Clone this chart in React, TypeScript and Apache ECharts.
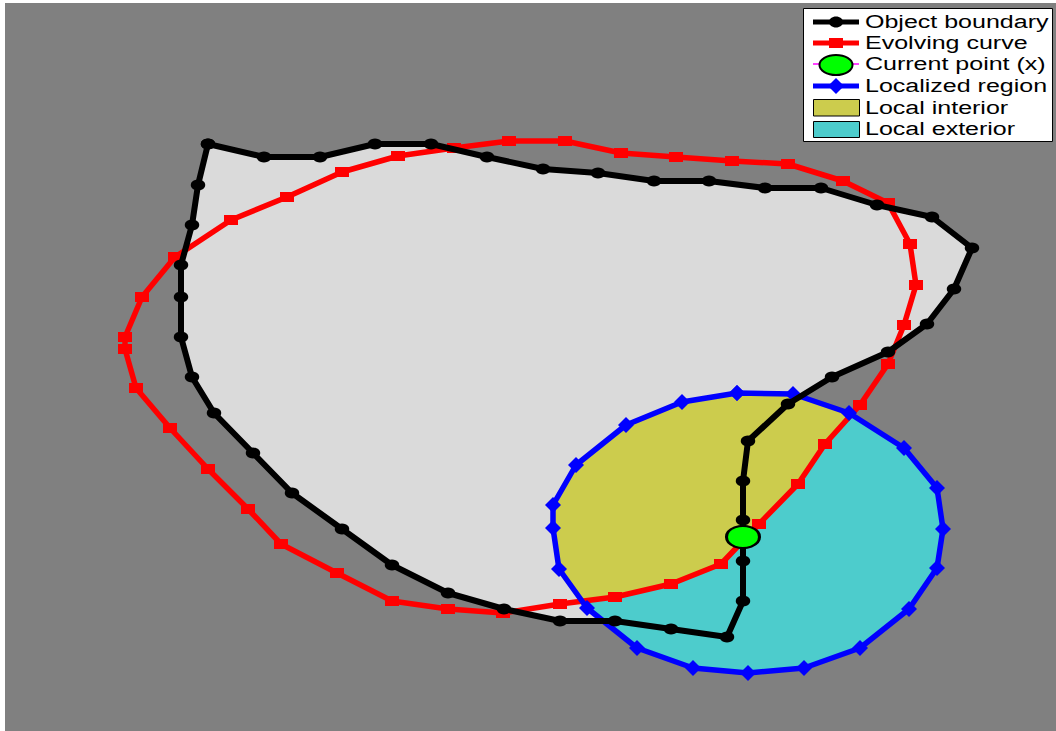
import React, { useEffect, useRef } from "react";
import * as echarts from "echarts";

// Contours in image coordinates (x to the right, y downwards).
const objectBoundary: [number, number][] = [
  [208, 144], [264, 157], [320, 157], [375, 144], [431, 144], [487, 157],
  [543, 169], [598, 173], [654, 181], [709, 181], [765, 188], [821, 188],
  [877, 205], [932, 217], [972, 248], [954, 289], [927, 324], [888, 352],
  [832, 377], [788, 404], [748, 441], [743, 481], [743, 520], [743, 561],
  [743, 601], [727, 637], [671, 629], [615, 621], [560, 621], [504, 609],
  [448, 593], [392, 565], [342, 529], [292, 493], [253, 453], [214, 413],
  [192, 377], [181, 337], [181, 297], [181, 265], [192, 225], [198, 185],
];

const evolvingCurve: [number, number][] = [
  [398, 156], [342, 172], [287, 197], [231, 220], [175, 257], [142, 297],
  [125, 337], [125, 349], [136, 388], [170, 428], [208, 469], [248, 509],
  [281, 544], [337, 573], [392, 601], [448, 609], [503, 613], [560, 604],
  [615, 597], [671, 584], [721, 564], [759, 524], [798, 484], [825, 444],
  [860, 405], [888, 364], [904, 325], [916, 285], [910, 244], [888, 203],
  [843, 181], [788, 164], [732, 161], [676, 157], [621, 153], [565, 141],
  [509, 141], [454, 148],
];

const localizedRegion: [number, number][] = [
  [737, 393], [793, 394], [849, 413], [904, 448], [937, 488], [943, 529],
  [937, 568], [909, 609], [860, 648], [804, 668], [748, 673], [693, 668],
  [637, 648], [587, 608], [559, 569], [553, 528], [553, 505], [576, 465],
  [626, 425], [682, 402],
];

const currentPoint: [number, number] = [743, 537];

// Where the evolving curve enters and leaves the localized region.
const crossingLower: [number, number] = [583, 601];
const crossingUpper: [number, number] = [852, 412];

// Pieces of the two contours that bound the local interior / exterior.
const curveInsideRegion = evolvingCurve.slice(18, 24);
const regionOuterArc = localizedRegion.slice(3, 14);
const regionInnerArc = [
  localizedRegion[1],
  localizedRegion[0],
  ...localizedRegion.slice(14).reverse(),
];

const localInterior: [number, number][] = [
  crossingLower,
  ...curveInsideRegion,
  crossingUpper,
  ...regionInnerArc,
];
const localExterior: [number, number][] = [
  crossingUpper,
  ...regionOuterArc,
  crossingLower,
  ...curveInsideRegion,
];

const legendLabels = [
  "Object boundary",
  "Evolving curve",
  "Current point (x)",
  "Localized region",
  "Local interior",
  "Local exterior",
];

const COLORS = {
  background: "#808080",
  object: "#dadada",
  interior: "#cccc4d",
  exterior: "#4dcccc",
  boundary: "#000000",
  curve: "#ff0000",
  region: "#0000ff",
  point: "#00ff00",
  pointLine: "#ff00ff",
};

const closed = (pts: [number, number][]) => [...pts, pts[0]];

function polygonSeries(pts: [number, number][], fill: string, z: number) {
  return {
    type: "custom",
    coordinateSystem: "cartesian2d",
    silent: true,
    z,
    data: [[pts[0][0], pts[0][1]]],
    renderItem: (_params: any, api: any) => ({
      type: "polygon",
      shape: { points: pts.map((p) => api.coord(p)) },
      style: { fill, stroke: null },
    }),
  };
}

function legendGraphic() {
  const left = 803;
  const top = 8;
  const sampleX0 = 813;
  const sampleX1 = 859;
  const sampleCx = 836;
  const textX = 865;
  const rows = [22, 43, 64, 86, 107.7, 129.3];
  const font = {
    fontSize: 18,
    fontFamily: "'Liberation Sans', Arial, Helvetica, sans-serif",
    fill: "#000",
    verticalAlign: "middle" as const,
    align: "left" as const,
  };
  const children: any[] = [
    {
      type: "rect",
      shape: { x: left + 0.5, y: top + 0.5, width: 249, height: 133 },
      style: { fill: "#ffffff", stroke: "#000", lineWidth: 1 },
    },
  ];
  const lineRow = (y: number, color: string, width: number) => ({
    type: "line",
    shape: { x1: sampleX0, y1: y, x2: sampleX1, y2: y },
    style: { stroke: color, lineWidth: width },
  });
  // Object boundary
  children.push(lineRow(rows[0], COLORS.boundary, 5));
  children.push({
    type: "ellipse",
    shape: { cx: sampleCx, cy: rows[0], rx: 7, ry: 5.5 },
    style: { fill: COLORS.boundary },
  });
  // Evolving curve
  children.push(lineRow(rows[1], COLORS.curve, 5));
  children.push({
    type: "rect",
    shape: { x: sampleCx - 7, y: rows[1] - 5, width: 14, height: 10 },
    style: { fill: COLORS.curve },
  });
  // Current point
  children.push(lineRow(rows[2], COLORS.pointLine, 1.5));
  children.push({
    type: "ellipse",
    shape: { cx: sampleCx, cy: rows[2] + 1, rx: 16.5, ry: 10 },
    style: { fill: COLORS.point, stroke: "#000", lineWidth: 2 },
  });
  // Localized region
  children.push(lineRow(rows[3], COLORS.region, 5));
  children.push({
    type: "polygon",
    shape: {
      points: [
        [sampleCx, rows[3] - 8],
        [sampleCx + 8, rows[3]],
        [sampleCx, rows[3] + 8],
        [sampleCx - 8, rows[3]],
      ],
    },
    style: { fill: COLORS.region },
  });
  // Patches
  children.push({
    type: "rect",
    shape: { x: sampleX0 + 0.5, y: 99.5, width: 46, height: 16.5 },
    style: { fill: COLORS.interior, stroke: "#000", lineWidth: 1 },
  });
  children.push({
    type: "rect",
    shape: { x: sampleX0 + 0.5, y: 121.5, width: 46, height: 16 },
    style: { fill: COLORS.exterior, stroke: "#000", lineWidth: 1 },
  });
  legendLabels.forEach((label, i) => {
    children.push({
      type: "text",
      x: textX,
      y: rows[i],
      scaleX: 1.39,
      style: { ...font, text: label },
    });
  });
  return { type: "group", z: 100, children };
}

export default function App() {
  const ref = useRef<HTMLDivElement>(null);

  useEffect(() => {
    if (!ref.current) return;
    const chart = echarts.init(ref.current, undefined, { renderer: "svg" });
    chart.setOption({
      animation: false,
      grid: {
        left: 5,
        top: 3,
        right: 0,
        bottom: 0,
        show: true,
        backgroundColor: COLORS.background,
        borderWidth: 0,
      },
      xAxis: { type: "value", min: 5, max: 1056, show: false },
      yAxis: { type: "value", min: 3, max: 731, inverse: true, show: false },
      series: [
        polygonSeries(objectBoundary, COLORS.object, 1),
        polygonSeries(localInterior, COLORS.interior, 2),
        polygonSeries(localExterior, COLORS.exterior, 2),
        {
          name: "Evolving curve",
          type: "line",
          z: 3,
          data: closed(evolvingCurve),
          symbol: "rect",
          symbolSize: [14, 10],
          showAllSymbol: true,
          lineStyle: { color: COLORS.curve, width: 5.5 },
          itemStyle: { color: COLORS.curve },
          silent: true,
        },
        {
          name: "Localized region",
          type: "line",
          z: 4,
          data: closed(localizedRegion),
          symbol: "diamond",
          symbolSize: [16, 16],
          showAllSymbol: true,
          lineStyle: { color: COLORS.region, width: 5.5 },
          itemStyle: { color: COLORS.region },
          silent: true,
        },
        {
          name: "Object boundary",
          type: "line",
          z: 5,
          data: closed(objectBoundary),
          symbol: "circle",
          symbolSize: [14.5, 11],
          showAllSymbol: true,
          lineStyle: { color: COLORS.boundary, width: 6 },
          itemStyle: { color: COLORS.boundary },
          silent: true,
        },
        {
          name: "Current point (x)",
          type: "scatter",
          z: 6,
          data: [currentPoint],
          symbol: "circle",
          symbolSize: [33, 22],
          itemStyle: {
            color: COLORS.point,
            opacity: 1,
            borderColor: "#000",
            borderWidth: 2.5,
          },
          silent: true,
        },
      ],
      graphic: [legendGraphic()],
    });
    return () => chart.dispose();
  }, []);

  return (
    <div
      ref={ref}
      style={{ position: "absolute", left: 0, top: 0, width: 1056, height: 731 }}
    />
  );
}
